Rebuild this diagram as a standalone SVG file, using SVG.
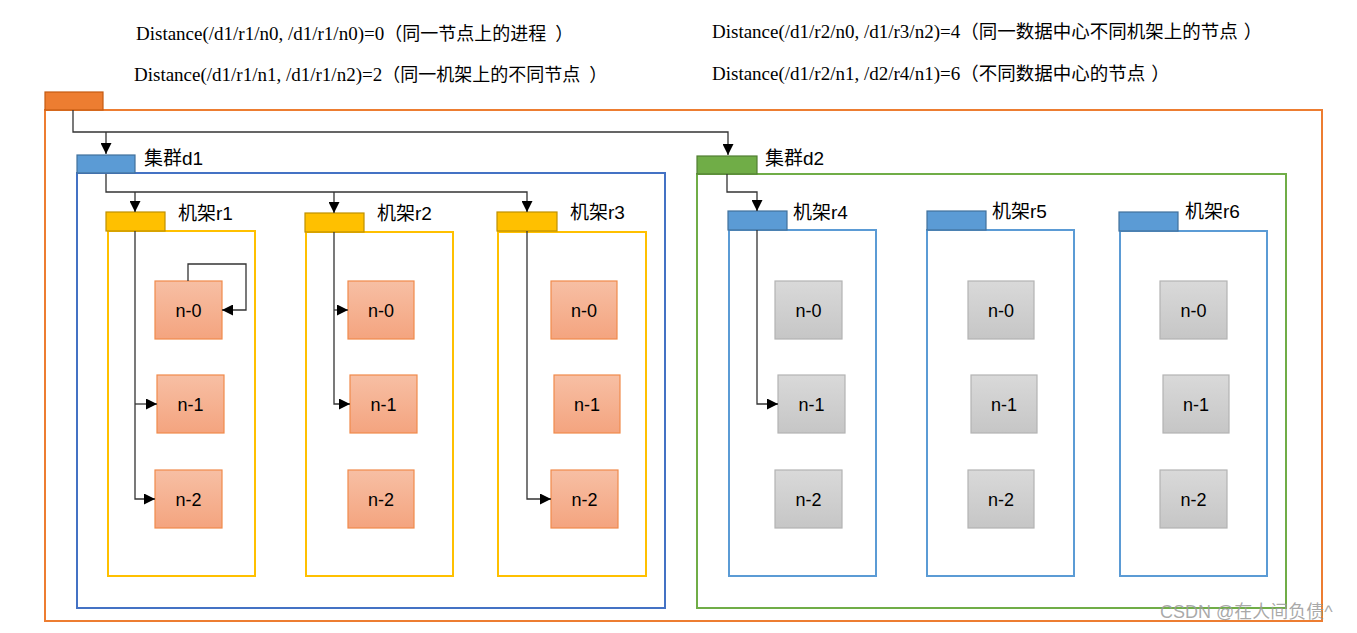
<svg xmlns="http://www.w3.org/2000/svg" width="1357" height="633" viewBox="0 0 1357 633">
<style>
.bg{fill:#fff}
.ser{font-family:"Liberation Serif","Times New Roman",serif;font-size:19px;fill:#000}
.cjk{font-family:"Noto Sans CJK SC","Liberation Sans",sans-serif;font-size:18px;fill:#000}
.cjk2{font-family:"Noto Sans CJK SC","Liberation Sans",sans-serif;font-size:18.5px;fill:#000}
.lbl{font-family:"Liberation Sans","Noto Sans CJK SC",sans-serif;font-size:19px;fill:#000}
.lblc{font-family:"Noto Sans CJK SC",sans-serif;font-size:19px}
.nt{font-family:"Liberation Sans",Arial,sans-serif;font-size:18px;fill:#000;text-anchor:middle}
.wm{font-family:"Liberation Sans","Noto Sans CJK SC",sans-serif;font-size:18px;fill:#9a9a9a;fill-opacity:0.85}
.cont{fill:none;stroke-width:2}
.on{fill:url(#go);stroke:#F08A4B;stroke-width:1.2}
.gn{fill:url(#gg);stroke:#B3B3B3;stroke-width:1.2}
.ln{fill:none;stroke:#333;stroke-width:1.3}
</style>
<defs>
<linearGradient id="go" x1="0" y1="0" x2="0" y2="1"><stop offset="0" stop-color="#F7BFA4"/><stop offset="1" stop-color="#F4A47F"/></linearGradient>
<linearGradient id="gg" x1="0" y1="0" x2="0" y2="1"><stop offset="0" stop-color="#D9D9D9"/><stop offset="1" stop-color="#C6C6C6"/></linearGradient>
<marker id="ah" viewBox="0 0 10 10" refX="10" refY="5" markerWidth="11" markerHeight="11" markerUnits="userSpaceOnUse" orient="auto"><path d="M0,0 L10,5 L0,10 z" fill="#000"/></marker>
</defs>
<rect class="bg" x="0" y="0" width="1357" height="633"/>

<g id="texts">
<text x="136" y="40"><tspan class="ser">Distance(/d1/r1/n0, /d1/r1/n0)=0</tspan><tspan class="cjk">（同一节点上的进程</tspan><tspan class="cjk" dx="9">）</tspan></text>
<text x="134" y="81"><tspan class="ser">Distance(/d1/r1/n1, /d1/r1/n2)=2</tspan><tspan class="cjk">（同一机架上的不同节点</tspan><tspan class="cjk" dx="9">）</tspan></text>
<text x="712" y="38"><tspan class="ser">Distance(/d1/r2/n0, /d1/r3/n2)=4</tspan><tspan class="cjk2">（同一数据中心不同机架上的节点</tspan><tspan class="cjk2" dx="6">）</tspan></text>
<text x="712" y="80"><tspan class="ser">Distance(/d1/r2/n1, /d2/r4/n1)=6</tspan><tspan class="cjk2">（不同数据中心的节点</tspan><tspan class="cjk2" dx="6">）</tspan></text>
</g>

<g id="root">
<rect class="cont" x="45" y="110" width="1277" height="511" stroke="#ED7D31"/>
<rect x="45" y="92" width="58" height="18" fill="#ED7D31" stroke="#C55A11" stroke-width="1.2"/>
</g>

<g id="d1">
<rect class="cont" x="77" y="173" width="588" height="435" stroke="#4472C4"/>
<rect x="77" y="155" width="58" height="18" fill="#5B9BD5" stroke="#41719C" stroke-width="1.2"/>
<text class="lbl" x="144" y="165"><tspan class="lblc">集群</tspan>d1</text>
</g>
<g id="d2">
<rect class="cont" x="697" y="174" width="589" height="434" stroke="#70AD47"/>
<rect x="697" y="156" width="60" height="18" fill="#70AD47" stroke="#507E32" stroke-width="1.2"/>
<text class="lbl" x="765" y="165"><tspan class="lblc">集群</tspan>d2</text>
</g>

<g id="r1">
<rect class="cont" x="108" y="231" width="147" height="345" stroke="#FFC000"/>
<rect x="106" y="212" width="59" height="19" fill="#FFC000" stroke="#BF9000" stroke-width="1.2"/>
<text class="lbl" x="178" y="220"><tspan class="lblc">机架</tspan>r1</text>
</g>
<g id="r2">
<rect class="cont" x="306" y="232" width="147" height="344" stroke="#FFC000"/>
<rect x="305" y="213" width="59" height="19" fill="#FFC000" stroke="#BF9000" stroke-width="1.2"/>
<text class="lbl" x="377" y="220"><tspan class="lblc">机架</tspan>r2</text>
</g>
<g id="r3">
<rect class="cont" x="498" y="232" width="148" height="344" stroke="#FFC000"/>
<rect x="497" y="212" width="60" height="19" fill="#FFC000" stroke="#BF9000" stroke-width="1.2"/>
<text class="lbl" x="570" y="219"><tspan class="lblc">机架</tspan>r3</text>
</g>
<g id="r4">
<rect class="cont" x="729" y="230" width="147" height="346" stroke="#5B9BD5"/>
<rect x="728" y="211" width="59" height="19" fill="#5B9BD5" stroke="#41719C" stroke-width="1.2"/>
<text class="lbl" x="793" y="219"><tspan class="lblc">机架</tspan>r4</text>
</g>
<g id="r5">
<rect class="cont" x="927" y="230" width="147" height="346" stroke="#5B9BD5"/>
<rect x="927" y="211" width="59" height="19" fill="#5B9BD5" stroke="#41719C" stroke-width="1.2"/>
<text class="lbl" x="992" y="218"><tspan class="lblc">机架</tspan>r5</text>
</g>
<g id="r6">
<rect class="cont" x="1120" y="231" width="147" height="345" stroke="#5B9BD5"/>
<rect x="1119" y="212" width="59" height="19" fill="#5B9BD5" stroke="#41719C" stroke-width="1.2"/>
<text class="lbl" x="1185" y="218"><tspan class="lblc">机架</tspan>r6</text>
</g>

<g id="r1n0"><rect class="on" x="155" y="281" width="67" height="58"/><text class="nt" x="188.5" y="317">n-0</text></g>
<g id="r1n1"><rect class="on" x="157" y="375" width="67" height="58"/><text class="nt" x="190.5" y="411">n-1</text></g>
<g id="r1n2"><rect class="on" x="155" y="470" width="67" height="58"/><text class="nt" x="188.5" y="506">n-2</text></g>
<g id="r2n0"><rect class="on" x="348" y="281" width="66" height="58"/><text class="nt" x="381" y="317">n-0</text></g>
<g id="r2n1"><rect class="on" x="350" y="375" width="67" height="58"/><text class="nt" x="383.5" y="411">n-1</text></g>
<g id="r2n2"><rect class="on" x="348" y="470" width="66" height="58"/><text class="nt" x="381" y="506">n-2</text></g>
<g id="r3n0"><rect class="on" x="551" y="281" width="66" height="58"/><text class="nt" x="584" y="317">n-0</text></g>
<g id="r3n1"><rect class="on" x="554" y="375" width="66" height="58"/><text class="nt" x="587" y="411">n-1</text></g>
<g id="r3n2"><rect class="on" x="551" y="470" width="67" height="58"/><text class="nt" x="584.5" y="506">n-2</text></g>

<g id="r4n0"><rect class="gn" x="775" y="281" width="67" height="58"/><text class="nt" x="808.5" y="317">n-0</text></g>
<g id="r4n1"><rect class="gn" x="778" y="375" width="67" height="58"/><text class="nt" x="811.5" y="411">n-1</text></g>
<g id="r4n2"><rect class="gn" x="775" y="470" width="67" height="58"/><text class="nt" x="808.5" y="506">n-2</text></g>
<g id="r5n0"><rect class="gn" x="968" y="281" width="66" height="58"/><text class="nt" x="1001" y="317">n-0</text></g>
<g id="r5n1"><rect class="gn" x="971" y="375" width="66" height="58"/><text class="nt" x="1004" y="411">n-1</text></g>
<g id="r5n2"><rect class="gn" x="968" y="470" width="66" height="58"/><text class="nt" x="1001" y="506">n-2</text></g>
<g id="r6n0"><rect class="gn" x="1160" y="281" width="67" height="58"/><text class="nt" x="1193.5" y="317">n-0</text></g>
<g id="r6n1"><rect class="gn" x="1163" y="375" width="66" height="58"/><text class="nt" x="1196" y="411">n-1</text></g>
<g id="r6n2"><rect class="gn" x="1160" y="470" width="67" height="58"/><text class="nt" x="1193.5" y="506">n-2</text></g>

<g id="connectors">
<path class="ln" d="M73,110 V132 H728 V155" marker-end="url(#ah)"/>
<path class="ln" d="M106,132 V154" marker-end="url(#ah)"/>
<path class="ln" d="M106,174 V192 H527 V212" marker-end="url(#ah)"/>
<path class="ln" d="M135,192 V212" marker-end="url(#ah)"/>
<path class="ln" d="M334,192 V213" marker-end="url(#ah)"/>
<path class="ln" d="M135,231 V499 H155" marker-end="url(#ah)"/>
<path class="ln" d="M135,404 H157" marker-end="url(#ah)"/>
<path class="ln" d="M188,281 V264 H246 V310 H222" marker-end="url(#ah)"/>
<path class="ln" d="M334,232 V404 H350" marker-end="url(#ah)"/>
<path class="ln" d="M334,310 H348" marker-end="url(#ah)"/>
<path class="ln" d="M527,231 V499 H551" marker-end="url(#ah)"/>
<path class="ln" d="M727,174 V192 H757 V211" marker-end="url(#ah)"/>
<path class="ln" d="M757,230 V404 H778" marker-end="url(#ah)"/>
</g>

<text class="wm" x="1160" y="618">CSDN @在人间负债^</text>
</svg>
